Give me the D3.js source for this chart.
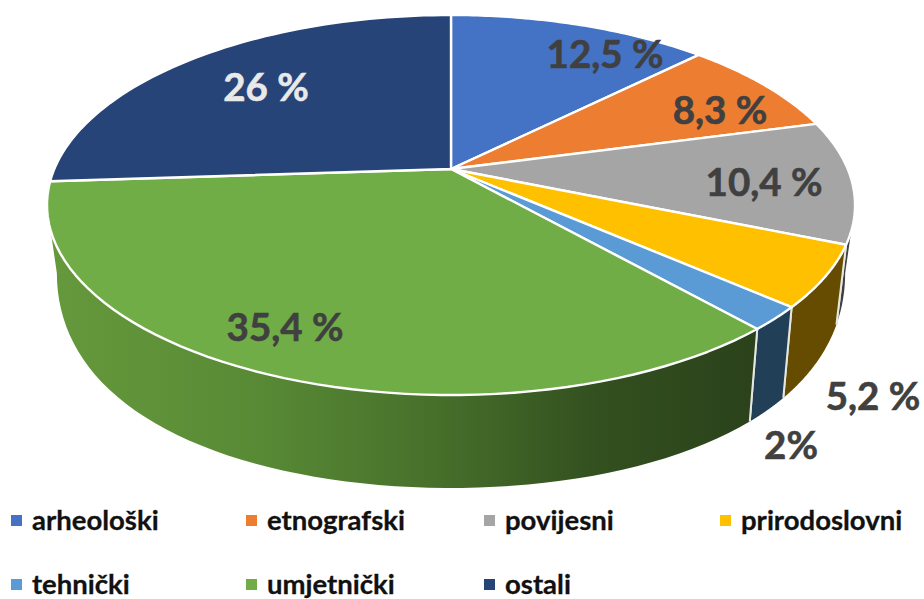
<!DOCTYPE html>
<html><head><meta charset="utf-8">
<script src="https://cdn.jsdelivr.net/npm/d3@7"></script>
<style>html,body{margin:0;padding:0;background:#fff}svg{display:block}text{font-family:Lato,"Open Sans",sans-serif;font-weight:700}</style>
</head><body><svg id="c" width="924" height="599"></svg>
<script>
const categories = ["arheološki","etnografski","povijesni","prirodoslovni","tehnički","umjetnički","ostali"];
const values = [12.5,8.3,10.4,5.2,2,35.4,26];
const valueLabels = ["12,5 %","8,3 %","10,4 %","5,2 %","2%","35,4 %","26 %"];
const colors = ["#4472c4","#ed7d31","#a5a5a5","#ffc000","#5b9bd5","#70ad47","#264478"];
const sideColors = ["#294475","#8e4b1d","#404040","#664c00","#213f57","url(#sideGreen)","#17294a"];

// layout
const labelPos = [[605,54],[720,110],[764,182],[873,396],[791,445],[285,327],[266,87]];
const labelFill = ["#404040","#404040","#404040","#404040","#404040","#404040","#e9e9e9"];
const legendCols = [11,246,484,720], legendRows = [520,584];
const cx = 451, cy = 169, k = 0.1895;
const topP = a => { const u=Math.sin(a), v=-Math.cos(a), w=1-k*v; return [cx+396.7*u/w, cy+183.2*v/w]; };
const botP = a => { const u=Math.sin(a), v=-Math.cos(a), w=1-k*v; return [cx+387*u/w, 223+265*v]; };
const sMin = Math.acos(-k), sMax = 2*Math.PI-sMin;

const svg = d3.select("#c");
const grad = svg.append("defs").append("linearGradient").attr("id","sideGreen")
  .attr("gradientUnits","userSpaceOnUse").attr("x1",48).attr("x2",750).attr("y1",0).attr("y2",0);
[[0,"#66993c"],[0.3,"#588a35"],[0.55,"#47702b"],[0.78,"#33501f"],[1,"#2b421b"]]
  .forEach(s=>grad.append("stop").attr("offset",s[0]).attr("stop-color",s[1]));

const arcs = d3.pie().sort(null)(values);
const line = d3.line();
const samples = (a0,a1,f) => d3.range(0,61).map(i=>f(a0+(a1-a0)*i/60));

// side wall
arcs.forEach((d,i)=>{
  const a0=Math.max(d.startAngle,sMin), a1=Math.min(d.endAngle,sMax);
  if(a1<=a0) return;
  const pts=samples(a0,a1,topP).concat(samples(a1,a0,botP));
  svg.append("path").attr("d",line(pts)+"Z").attr("fill",sideColors[i]);
  [a0,a1].forEach(a=>{
    if(a===sMin||a===sMax) return;
    svg.append("path").attr("d",line([topP(a),botP(a)])).attr("stroke","#e4e8e0").attr("stroke-width",2).attr("fill","none");
  });
});

// top face
arcs.forEach((d,i)=>{
  const pts=[[cx,cy]].concat(samples(d.startAngle,d.endAngle,topP));
  svg.append("path").attr("d",line(pts)+"Z").attr("fill",colors[i])
    .attr("stroke","#fff").attr("stroke-width",2.4).attr("stroke-linejoin","round");
});

// value labels
valueLabels.forEach((t,i)=>{
  svg.append("text").attr("x",labelPos[i][0]).attr("y",labelPos[i][1]).attr("dy","0.36em")
    .attr("text-anchor","middle").attr("font-size",38.5).attr("fill",labelFill[i])
    .attr("stroke",labelFill[i]).attr("stroke-width",0.6).text(t);
});

// legend
categories.forEach((c,i)=>{
  const x=legendCols[i%4], y=legendRows[Math.floor(i/4)];
  svg.append("rect").attr("x",x).attr("y",y-5).attr("width",11).attr("height",11).attr("fill",colors[i]);
  svg.append("text").attr("x",x+21).attr("y",y).attr("dy","0.36em").attr("font-size",27.5).attr("fill","#111")
    .attr("stroke","#111").attr("stroke-width",0.3).text(c);
});
</script></body></html>
